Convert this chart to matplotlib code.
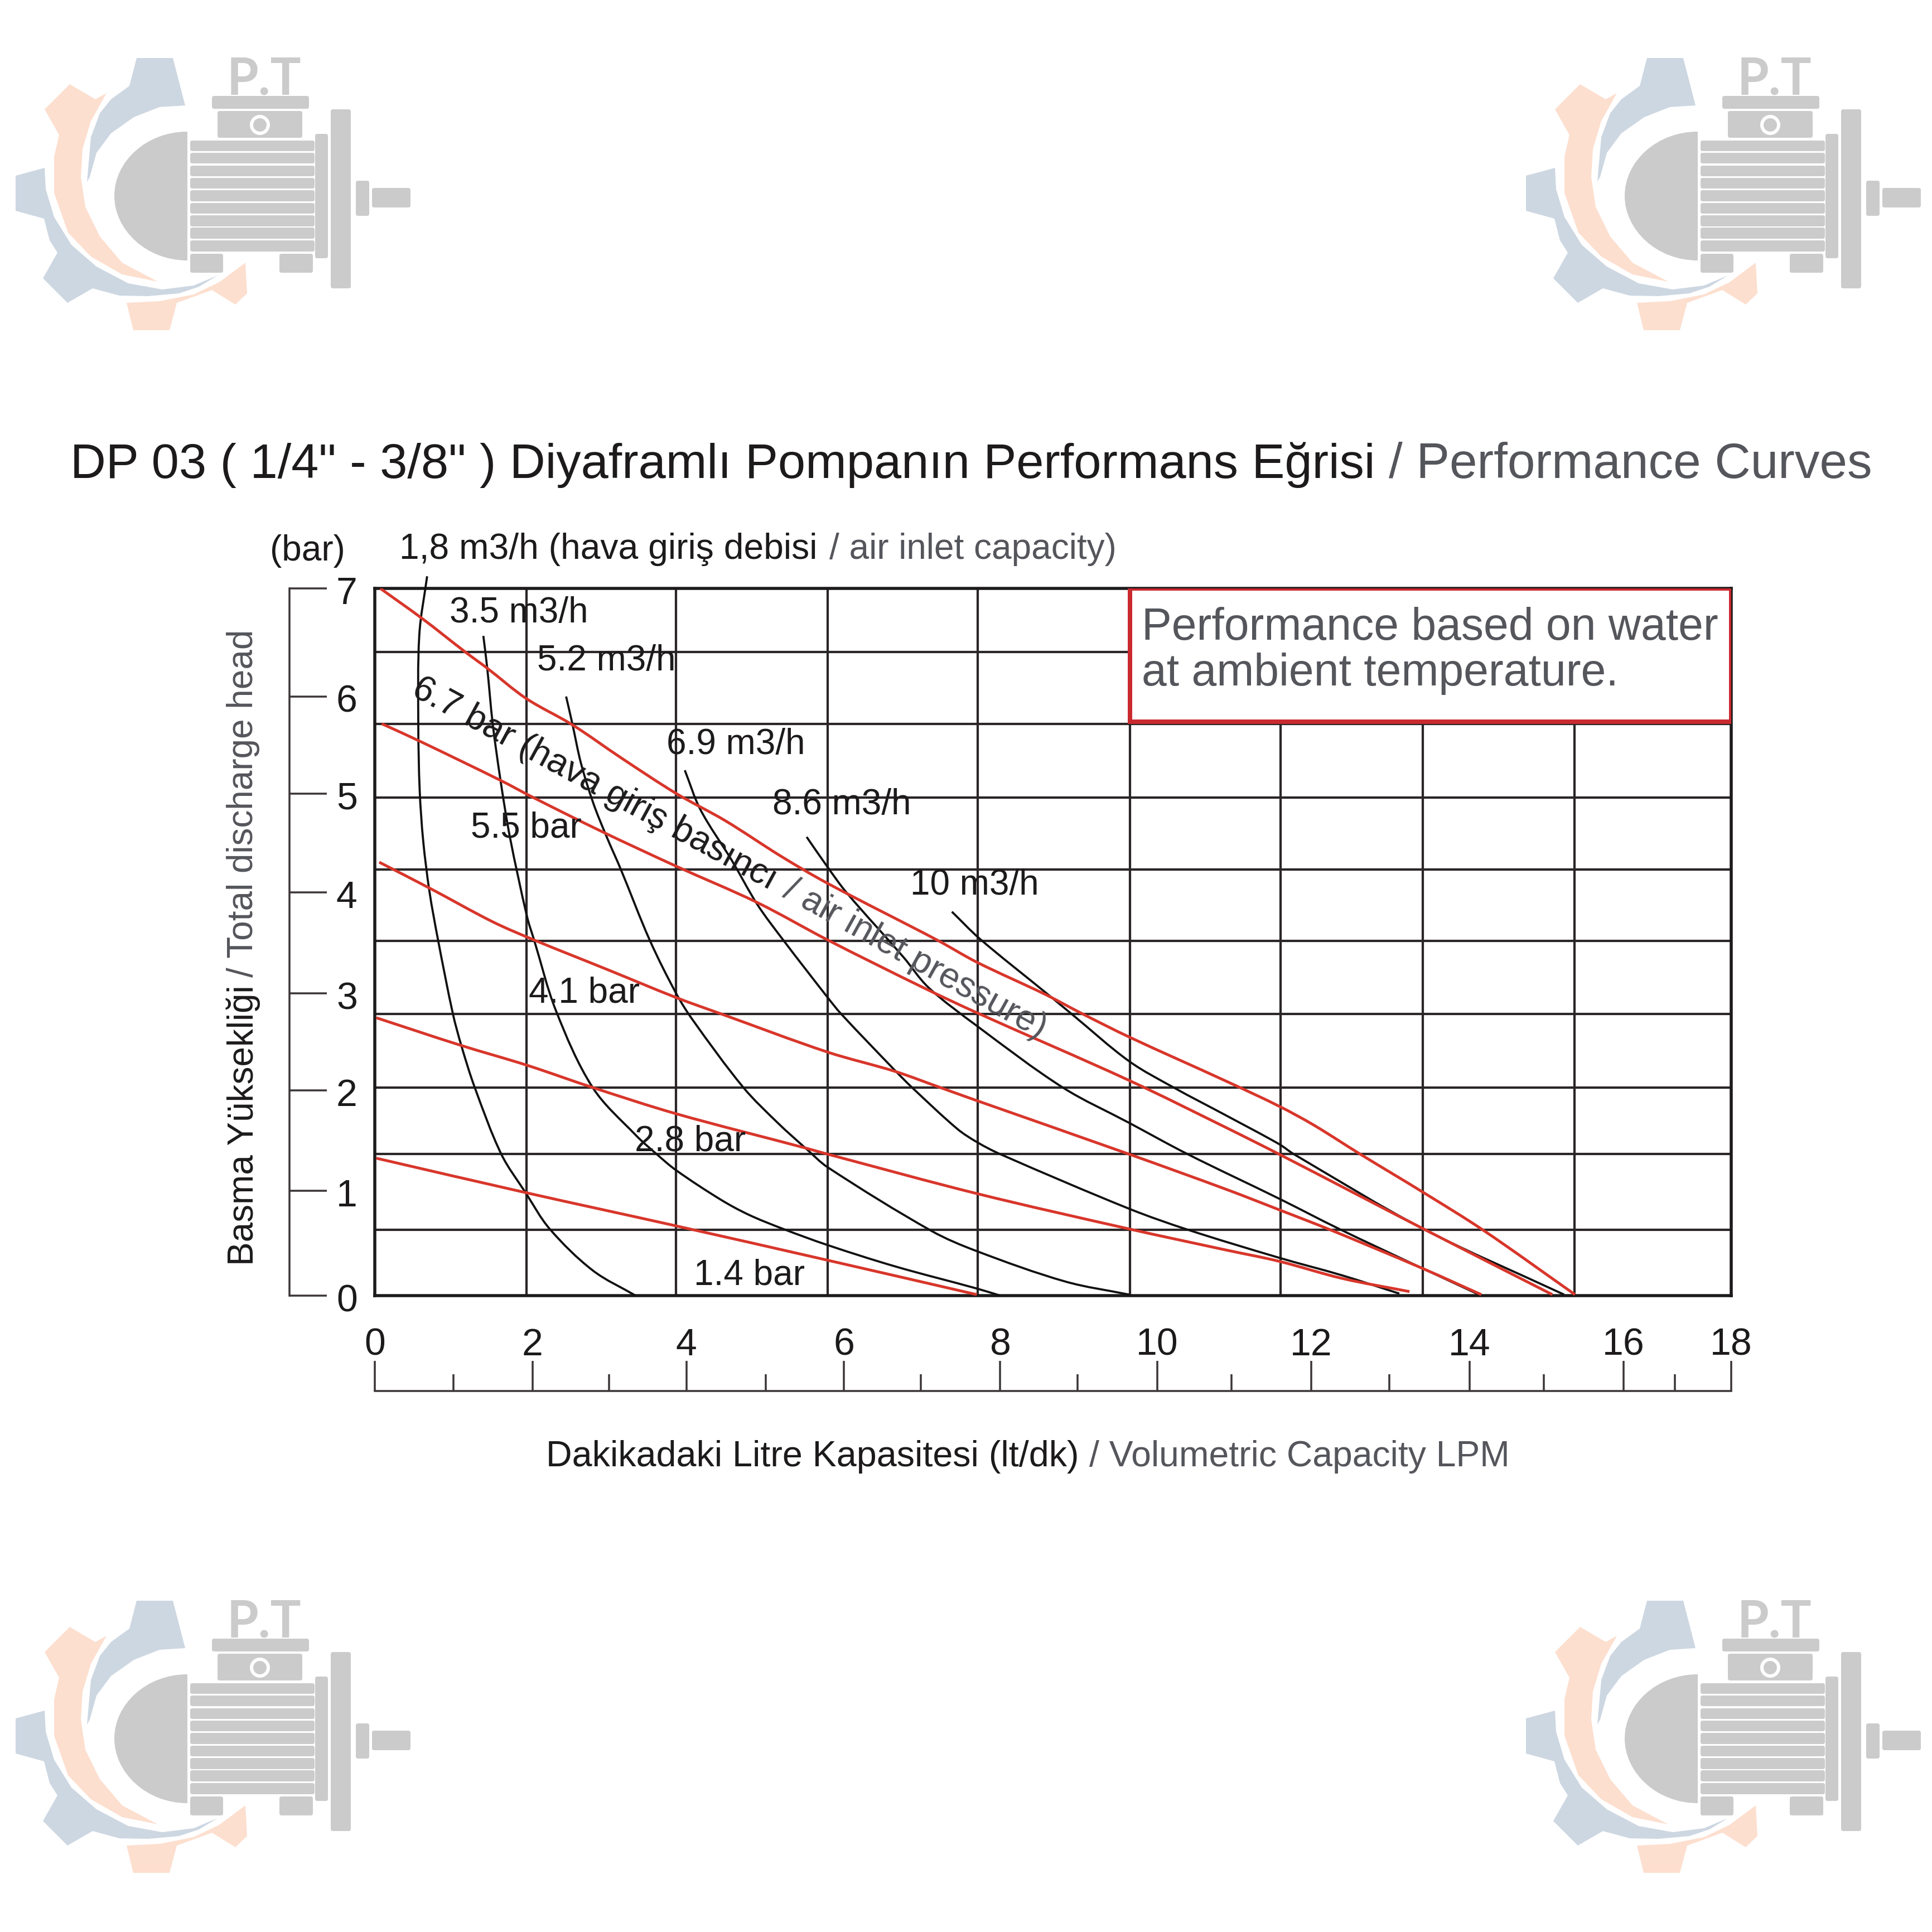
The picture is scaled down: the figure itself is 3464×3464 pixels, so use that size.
import numpy as np
import matplotlib
matplotlib.use("Agg")
import matplotlib.pyplot as plt
from matplotlib.patches import Polygon, Rectangle, Circle, FancyBboxPatch, PathPatch
from matplotlib.path import Path
from matplotlib.transforms import Affine2D

plt.rcParams['font.family'] = ['Liberation Sans', 'DejaVu Sans']

W = 3464
BLACK = "#1c1a1b"
GRID = "#2a2526"
RED = "#d8362b"
GREY = "#55565c"

# axis readings (bar, lt/dk)
x_ticks = [0, 2.02, 3.99, 6.01, 8.01, 10.02, 11.99, 14.02, 15.99, 17.37]
x_labels = ["0", "2", "4", "6", "8", "10", "12", "14", "16", "18"]
x_minor = [1.01, 3.0, 5.01, 6.99, 9.0, 10.97, 12.99, 14.97, 16.65]
y_ticks = [0, 1.04, 2.03, 2.99, 3.99, 4.97, 5.93, 7]
y_labels = ["0", "1", "2", "3", "4", "5", "6", "7"]
grid_x = [1.94, 3.86, 5.8, 7.72, 9.67, 11.6, 13.42, 15.36]
grid_y = [0.65, 1.40, 2.06, 2.79, 3.51, 4.215, 4.93, 5.66, 6.37]

# black curves, air inlet capacity
c18_x = [0.67, 0.57, 0.557, 0.575, 0.62, 0.70, 0.81, 1.0, 1.11, 1.28, 1.62, 1.93, 2.24, 2.79, 3.34]
c18_y = [7.12, 6.54, 5.66, 5.0, 4.5, 4.0, 3.52, 2.79, 2.47, 2.06, 1.40, 1.02, 0.66, 0.25, 0.0]
c35_x = [1.39, 1.44, 1.51, 1.61, 1.73, 1.95, 2.04, 2.32, 2.79, 3.34, 3.61, 3.86, 4.43, 4.79, 5.23, 5.8, 6.66, 7.71, 8.01]
c35_y = [6.53, 6.21, 5.66, 5.10, 4.54, 3.75, 3.52, 2.82, 2.06, 1.59, 1.40, 1.24, 0.95, 0.80, 0.66, 0.50, 0.29, 0.07, 0.0]
c52_x = [2.45, 2.53, 2.64, 2.80, 2.97, 3.15, 3.52, 3.86, 4.07, 4.72, 5.16, 5.53, 5.8, 7.13, 7.71, 8.84, 9.66]
c52_y = [5.93, 5.66, 5.27, 4.87, 4.54, 4.22, 3.52, 2.99, 2.73, 2.06, 1.71, 1.45, 1.27, 0.64, 0.44, 0.14, 0.01]
c69_x = [3.97, 4.17, 4.57, 4.90, 5.23, 5.8, 5.97, 6.66, 6.88, 7.46, 7.71, 8.01, 9.66, 10.42, 11.58, 12.39, 13.12]
c69_y = [5.20, 4.81, 4.31, 3.87, 3.52, 2.95, 2.79, 2.23, 2.06, 1.65, 1.52, 1.40, 0.86, 0.65, 0.375, 0.20, 0.02]
c86_x = [5.53, 5.8, 6.04, 6.77, 7.09, 7.71, 8.81, 9.66, 10.41, 11.58, 12.35, 13.43, 14.14]
c86_y = [4.54, 4.24, 3.99, 3.35, 3.05, 2.67, 2.06, 1.71, 1.40, 0.96, 0.66, 0.265, 0.01]
c10_x = [7.39, 7.75, 8.59, 8.92, 9.66, 10.23, 10.91, 11.58, 11.77, 13.43, 15.23]
c10_y = [3.80, 3.53, 3.0, 2.79, 2.32, 2.06, 1.78, 1.50, 1.40, 0.66, 0.01]

# red curves, air inlet pressure
p67_x = [0.07, 0.61, 1.16, 1.44, 1.94, 2.53, 3.16, 3.86, 4.49, 5.2, 5.8, 7.2, 7.71, 8.59, 9.06, 9.66, 10.91, 11.58, 12.02, 12.62, 13.43, 14.19, 15.37]
p67_y = [7.0, 6.70, 6.37, 6.21, 5.91, 5.65, 5.32, 4.97, 4.70, 4.35, 4.08, 3.52, 3.30, 2.98, 2.79, 2.56, 2.12, 1.875, 1.69, 1.40, 1.02, 0.65, 0.01]
p55_x = [0.09, 0.57, 1.61, 2.03, 2.89, 3.86, 4.90, 5.8, 7.02, 7.71, 9.66, 10.91, 11.58, 13.43, 15.08]
p55_y = [5.66, 5.49, 5.10, 4.93, 4.60, 4.25, 3.89, 3.52, 3.05, 2.80, 2.13, 1.66, 1.40, 0.66, 0.01]
p41_x = [0.057, 0.71, 1.51, 2.04, 2.97, 3.86, 4.43, 5.8, 6.66, 7.24, 7.71, 9.66, 10.91, 11.58, 12.24, 13.43, 14.17]
p41_y = [4.29, 4.03, 3.70, 3.52, 3.23, 2.95, 2.79, 2.41, 2.22, 2.06, 1.93, 1.40, 1.05, 0.85, 0.65, 0.265, 0.01]
p28_x = [0.02, 1.09, 1.95, 2.79, 3.86, 5.52, 5.8, 7.71, 9.66, 10.91, 11.58, 12.39, 13.25]
p28_y = [2.75, 2.48, 2.28, 2.06, 1.80, 1.46, 1.40, 1.01, 0.66, 0.45, 0.34, 0.17, 0.04]
p14_x = [0.02, 1.93, 3.86, 5.8, 7.71]
p14_y = [1.36, 1.02, 0.69, 0.35, 0.01]

black_curves = [(c18_x, c18_y), (c35_x, c35_y), (c52_x, c52_y), (c69_x, c69_y), (c86_x, c86_y), (c10_x, c10_y)]
red_curves = [(p67_x, p67_y), (p55_x, p55_y), (p41_x, p41_y), (p28_x, p28_y), (p14_x, p14_y)]


def px(v):
    # pixels to points at dpi 100
    return v * 0.72


def box(x0, y0, x1, y1):
    # figure fraction rectangle from pixel corners, y measured from the top
    return [x0 / W, 1 - y1 / W, (x1 - x0) / W, (y1 - y0) / W]


def curve_path(xs, ys):
    # smooth bezier through the read points
    p = np.column_stack([xs, ys])
    scale = np.array([140.0, 181.0])
    q = p * scale
    tan = np.zeros_like(q)
    tan[1:-1] = q[2:] - q[:-2]
    tan[0] = q[1] - q[0]
    tan[-1] = q[-1] - q[-2]
    tan = tan / np.linalg.norm(tan, axis=1, keepdims=True)
    verts = [p[0]]
    codes = [Path.MOVETO]
    for i in range(len(p) - 1):
        seg = np.linalg.norm(q[i + 1] - q[i]) / 3
        verts.append((q[i] + tan[i] * seg) / scale)
        verts.append((q[i + 1] - tan[i + 1] * seg) / scale)
        verts.append(p[i + 1])
        codes += [Path.CURVE4] * 3
    return Path(np.array(verts), codes)


def draw_logo(a, dx, dy):
    blue = "#cdd7e2"
    orange = "#fddfcf"
    grey = "#cbcbcb"
    blue_top = [(245, 104), (310, 104), (332, 189), (286, 192), (240, 210), (199, 239), (173, 274), (161, 317),
                (156, 326), (163, 246), (179, 203), (199, 178), (232, 154)]
    orange_left = [(125, 151), (171, 178), (191, 167), (163, 217), (148, 267), (145, 317), (153, 371), (179, 424),
                   (219, 471), (283, 505), (219, 492), (163, 460), (122, 417), (97, 346), (97, 281), (106, 242), (80, 196)]
    blue_low = [(80, 301), (28, 315), (28, 378), (79, 392), (89, 431), (103, 453), (77, 499), (121, 543), (166, 517),
                (214, 530), (265, 531), (321, 526), (357, 514), (390, 494), (347, 512), (291, 519), (230, 508),
                (173, 478), (128, 439), (97, 389), (82, 339)]
    orange_low = [(440, 471), (443, 526), (422, 546), (380, 520), (317, 543), (304, 592), (239, 592), (227, 543),
                  (286, 540), (347, 528), (393, 506)]
    for pts, col in [(blue_top, blue), (orange_left, orange), (blue_low, blue), (orange_low, orange)]:
        a.add_patch(Polygon(np.array(pts) + (dx, dy), closed=True, fc=col, ec="none"))

    rects = [(380, 172, 554, 195), (390, 199, 542, 247), (565, 240, 588, 463), (593, 196, 629, 517),
             (638, 324, 662, 387), (667, 337, 736, 372), (341, 455, 400, 489), (501, 455, 561, 489)]
    for top, bot in [(252, 271), (274, 293), (297, 316), (319, 338), (341, 361), (364, 383), (386, 406), (408, 428), (431, 451)]:
        rects.append((341, top, 564, bot))
    for x0, y0, x1, y1 in rects:
        a.add_patch(FancyBboxPatch((x0 + dx + 4, y0 + dy + 4), x1 - x0 - 8, y1 - y0 - 8,
                                   boxstyle="round,pad=4,rounding_size=4", fc=grey, ec="none"))
    a.add_patch(Circle((466 + dx, 224 + dy), 18, fc="white", ec="none"))
    a.add_patch(Circle((466 + dx, 224 + dy), 12, fc=grey, ec="none"))

    # end cap
    verts = [(336, 236), (262, 236), (205, 290), (205, 351), (205, 412), (262, 467), (336, 467), (336, 236)]
    codes = [Path.MOVETO, Path.CURVE4, Path.CURVE4, Path.CURVE4, Path.CURVE4, Path.CURVE4, Path.CURVE4, Path.CLOSEPOLY]
    a.add_patch(PathPatch(Path(np.array(verts) + (dx, dy), codes), fc=grey, ec="none"))

    a.text(473 + dx, 143 + dy, "P.T", fontsize=66, fontweight="bold", color=grey, ha="center", va="center",
           family=['Lato', 'Liberation Sans'])


fig = plt.figure(figsize=(W / 100, W / 100), dpi=100, facecolor="white")

# watermarks
bg = fig.add_axes([0, 0, 1, 1], zorder=0)
bg.set_xlim(0, W)
bg.set_ylim(W, 0)
bg.axis("off")
for dx, dy in [(0, 0), (2708, 0), (0, 2766), (2708, 2766)]:
    draw_logo(bg, dx, dy)

# main chart
ax = fig.add_axes(box(672, 1055, 3104, 2323), zorder=2)
ax.patch.set_alpha(0)
ax.set_xlim(0, 17.37)
ax.set_ylim(0, 7)
ax.set_xticks([])
ax.set_yticks([])
for s in ax.spines.values():
    s.set_linewidth(px(5.5))
    s.set_color(BLACK)
ax.vlines(grid_x, 0, 7, color=GRID, lw=px(4.2), zorder=1)
ax.hlines(grid_y, 0, 17.37, color=GRID, lw=px(4.2), zorder=1)

for xs, ys in black_curves:
    ax.add_patch(PathPatch(curve_path(xs, ys), fc="none", ec="#111111", lw=px(3.8), clip_on=False, zorder=3))
for xs, ys in red_curves:
    ax.add_patch(PathPatch(curve_path(xs, ys), fc="none", ec=RED, lw=px(5), zorder=3.5))

ax.add_patch(Rectangle((9.67, 5.68), 17.37 - 9.67, 7 - 5.68, fc="white", ec="#c92a30", lw=px(8), zorder=4))

# left ruler
ay = fig.add_axes(box(519, 1055, 586, 2323), zorder=2)
ay.patch.set_alpha(0)
ay.set_xlim(0, 1)
ay.set_ylim(0, 7)
ay.set_xticks([])
for name in ["top", "right", "bottom"]:
    ay.spines[name].set_visible(False)
ay.spines["left"].set_linewidth(px(3.5))
ay.spines["left"].set_color("#3b3536")
ay.set_yticks(y_ticks)
ay.set_yticklabels(y_labels)
ay.tick_params(axis="y", direction="in", left=True, right=False, labelleft=False, labelright=True,
               length=px(67), width=px(3.5), color="#3b3536", pad=px(17), labelsize=49, labelcolor=BLACK)
for tl in ay.get_yticklabels():
    tl.set_transform(tl.get_transform() + Affine2D().translate(0, -3))

# bottom ruler
ar = fig.add_axes(box(672, 2440, 3104, 2494), zorder=2)
ar.patch.set_alpha(0)
ar.set_xlim(0, 17.37)
ar.set_ylim(0, 1)
ar.set_yticks([])
for name in ["top", "right", "left"]:
    ar.spines[name].set_visible(False)
ar.spines["bottom"].set_linewidth(px(3.5))
ar.spines["bottom"].set_color("#3b3536")
ar.set_xticks(x_ticks)
ar.set_xticklabels(x_labels)
ar.set_xticks(x_minor, minor=True)
ar.tick_params(axis="x", which="major", direction="in", bottom=True, top=False, labelbottom=False, labeltop=True,
               length=px(54), width=px(3.5), color="#3b3536", pad=-px(4), labelsize=49, labelcolor=BLACK)
ar.tick_params(axis="x", which="minor", direction="in", bottom=True, top=False, length=px(30), width=px(3.5), color="#3b3536")

# all text, pixel coordinates from the top left
ov = fig.add_axes([0, 0, 1, 1], zorder=5)
ov.patch.set_alpha(0)
ov.set_xlim(0, W)
ov.set_ylim(W, 0)
ov.axis("off")


def label(x, y, s, size=46, color=BLACK, **kw):
    kw.setdefault("ha", "left")
    kw.setdefault("va", "center")
    ov.text(x, y, s, fontsize=size, color=color, **kw)


label(126, 834, 'DP 03 ( 1/4" - 3/8" ) Diyaframlı Pompanın Performans Eğrisi', size=63.6)
label(2490, 834, "/ Performance Curves", size=64.2, color=GREY)

label(484, 988, "(bar)", size=46)
label(716, 985, "1,8 m3/h (hava giriş debisi", size=46.2)
label(1487, 985, "/ air inlet capacity)", size=46, color=GREY)
label(806, 1099, "3.5 m3/h")
label(963, 1185, "5.2 m3/h")
label(1195, 1335, "6.9 m3/h")
label(1385, 1443, "8.6 m3/h")
label(1632, 1587, "10 m3/h")
label(844, 1485, "5.5 bar")
label(948, 1781, "4.1 bar")
label(1138, 2046, "2.8 bar")
label(1244, 2287, "1.4 bar")
label(743, 1231, "6.7 bar (hava giriş basıncı", rotation=-28.5, rotation_mode="anchor")
label(1410, 1592, "/ air inlet pressure)", color=GREY, rotation=-29, rotation_mode="anchor")

label(436, 2269, "Basma Yüksekliği", rotation=90, rotation_mode="anchor", size=46)
label(436, 1752, "/ Total discharge head", rotation=90, rotation_mode="anchor", size=46, color=GREY)
label(979, 2612, "Dakikadaki Litre Kapasitesi (lt/dk)", size=46.5)
label(1953, 2612, "/ Volumetric Capacity LPM", size=46.3, color=GREY)

label(2047, 1126, "Performance based on water", size=58, color=GREY)
label(2047, 1208, "at ambient temperature.", size=58, color=GREY)

fig.savefig("out.png", dpi=100)
